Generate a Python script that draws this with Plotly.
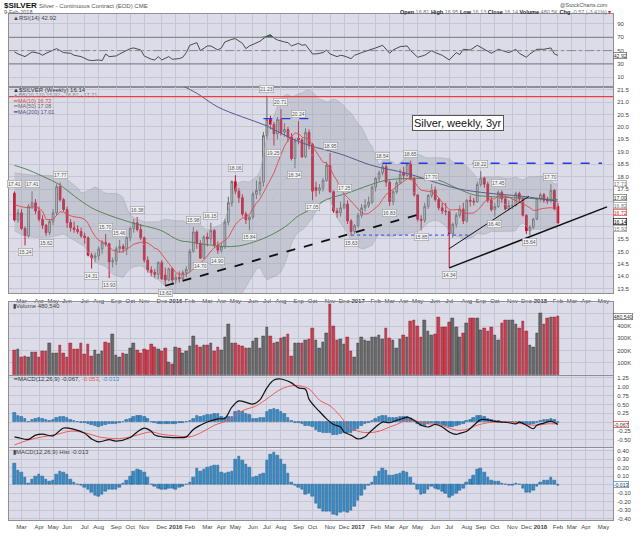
import numpy as np
import pandas as pd
import plotly.graph_objects as go

# ---------------- data (weekly, weeks starting Monday) ----------------
FIRST_WEEK = "2015-02-16"

opens = [17.34,16.26,16.55,15.92,15.63,16.81,16.95,16.62,16.29,16.05,15.75,16.20,16.55,
         17.60,17.08,16.68,16.16,15.95,15.88,15.80,15.62,15.55,14.85,14.75,14.82,15.10,
         15.35,15.31,14.58,14.62,15.10,15.20,15.10,15.55,15.92,16.15,15.88,15.55,14.65,
         14.25,14.15,14.08,14.55,14.05,13.85,14.30,13.85,13.95,13.90,14.15,14.28,15.00,
         15.78,15.32,14.73,15.58,15.50,15.84,15.25,15.05,15.20,16.18,16.95,17.80,17.42,
         17.16,16.50,16.27,16.38,17.30,17.45,17.78,19.65,20.30,20.10,19.72,20.30,19.78,
         19.90,19.60,18.73,19.55,19.48,18.80,19.78,19.30,17.57,17.45,17.55,17.85,18.45,
         17.40,16.62,16.55,16.75,16.90,16.22,15.80,16.03,16.45,16.75,16.85,16.98,17.58,
         17.93,18.15,18.40,17.78,17.00,17.40,17.75,18.15,18.05,18.50,17.93,17.27,16.29,
         16.25,16.81,17.25,17.47,17.08,16.75,16.62,16.60,15.70,16.09,16.45,16.70,16.22,
         17.05,17.02,16.99,17.69,17.95,17.70,17.05,16.68,16.80,17.37,17.11,16.70,16.84,
         16.85,17.33,17.10,16.45,15.83,15.97,16.30,17.13,17.28,17.05,17.03,17.45,16.81]
highs = [17.41,16.70,16.70,16.00,16.90,17.41,17.10,16.80,16.45,16.10,16.30,16.70,17.70,
         17.77,17.15,16.80,16.30,16.20,16.05,15.95,15.75,15.60,14.95,14.95,15.20,15.45,
         15.70,15.35,14.75,15.20,15.46,15.30,15.60,16.00,16.30,16.38,16.10,15.60,14.80,
         14.40,14.30,14.60,14.65,14.35,14.35,14.35,14.10,14.20,14.25,14.40,15.10,15.98,
         15.85,15.45,15.65,15.75,16.15,15.90,15.40,15.35,16.30,17.20,17.85,18.06,17.55,
         17.30,16.60,16.45,17.40,17.85,18.00,19.80,21.23,20.45,20.20,20.40,20.71,20.15,
         20.00,19.75,19.55,20.24,19.55,19.95,19.90,19.35,17.80,17.70,17.95,18.60,18.95,
         17.45,16.75,17.00,17.25,17.05,16.30,16.10,16.55,16.90,17.10,17.20,17.65,18.00,
         18.25,18.54,18.50,17.85,17.45,17.85,18.30,18.40,18.55,18.65,18.00,17.30,16.45,
         16.95,17.30,17.70,17.60,17.15,16.95,16.95,16.65,16.15,16.55,16.85,16.95,17.10,
         17.25,17.15,17.80,18.22,18.00,17.80,17.20,16.95,17.45,17.45,17.25,17.05,17.10,
         17.40,17.40,17.20,16.50,16.05,16.35,17.15,17.35,17.35,17.20,17.70,17.50,16.95]
lows = [16.20,16.15,15.85,15.24,15.55,16.70,16.50,16.20,15.90,15.62,15.65,16.05,16.45,
        17.00,16.60,15.95,15.80,15.75,15.70,15.55,15.30,14.80,14.31,14.55,14.65,14.90,
        15.20,13.93,14.35,14.45,14.95,14.95,14.85,15.40,15.75,15.80,15.45,14.55,14.15,
        14.00,13.95,13.90,13.85,13.62,13.80,13.75,13.70,13.75,13.85,13.95,14.15,14.95,
        15.10,14.70,14.72,15.20,15.30,15.15,14.90,14.95,15.10,16.05,16.80,17.30,16.95,
        16.40,16.10,15.84,16.30,17.10,17.25,17.60,19.50,19.90,19.25,19.50,19.65,19.60,
        19.40,18.65,18.34,19.30,18.75,18.75,19.10,17.05,17.20,17.30,17.40,17.80,17.35,
        16.55,16.35,16.40,16.70,16.10,15.63,15.70,15.95,16.35,16.60,16.75,16.90,17.40,
        17.80,18.05,17.60,16.83,16.85,17.30,17.70,17.85,18.00,17.85,17.20,16.20,15.85,
        16.15,16.70,17.15,17.00,16.65,16.50,16.45,14.34,15.55,15.95,16.35,16.10,16.15,
        16.80,16.85,16.95,17.60,17.55,16.95,16.60,16.40,16.75,16.95,16.65,16.65,16.70,
        16.80,16.95,16.40,15.70,15.64,15.90,16.25,17.00,16.95,16.90,16.95,16.65,16.13]
closes = [16.26,16.55,15.92,15.63,16.81,16.95,16.62,16.29,16.05,15.75,16.20,16.55,17.60,
          17.08,16.68,16.16,15.95,15.88,15.80,15.62,15.55,14.85,14.75,14.82,15.10,15.35,
          15.31,14.58,14.62,15.10,15.20,15.10,15.55,15.92,16.15,15.88,15.55,14.65,14.25,
          14.15,14.08,14.55,13.90,13.85,14.30,13.85,13.95,13.90,14.15,14.28,15.00,15.78,
          15.32,14.73,15.58,15.50,15.84,15.25,15.05,15.20,16.18,16.95,17.80,17.42,17.16,
          16.50,16.27,16.38,17.30,17.45,17.78,19.65,20.30,20.10,19.72,20.30,19.78,19.90,
          19.60,18.73,19.45,19.48,18.80,19.78,19.30,17.42,17.45,17.55,17.85,18.45,17.40,
          16.62,16.55,16.75,16.90,16.22,15.80,16.03,16.45,16.75,16.85,16.98,17.58,17.93,
          18.15,18.40,17.78,17.00,17.40,17.75,18.10,18.05,18.50,17.93,17.27,16.29,16.25,
          16.81,17.25,17.47,17.08,16.75,16.62,16.60,15.70,16.09,16.45,16.70,16.22,17.05,
          17.02,16.99,17.69,17.95,17.70,17.05,16.68,16.80,17.37,17.11,16.70,16.84,16.85,
          17.33,17.10,16.45,15.83,15.97,16.30,17.13,17.28,17.05,17.03,17.45,16.71,16.14]
volume_k = [202,207,148,153,142,188,183,148,196,196,256,175,175,243,175,142,256,210,210,261,
            167,251,153,202,167,196,270,261,329,161,142,175,167,215,256,202,180,207,202,251,
            229,207,196,221,99,88,229,215,175,196,234,316,243,229,243,243,256,196,229,202,
            310,411,256,261,243,234,215,215,275,302,215,318,392,316,256,270,302,305,329,156,
            256,256,261,283,288,378,283,
            215,270,343,576,397,283,289,251,310,196,148,261,310,283,278,310,310,324,289,378,
            297,283,221,294,324,310,440,446,397,310,451,359,324,332,473,392,392,432,467,386,
            310,343,424,467,467,467,364,378,359,392,324,283,424,446,451,451,411,378,440,359,
            243,224,337,505,411,467,473,473,480.54]

# indicator readings (week index -> value)
rsi_week = [0,1,3,5,7,8,9,12,13,14,16,17,19,21,22,24,25,26,27,29,30,32,33,34,36,37,39,40,41,42,
            44,45,47,48,49,50,52,53,55,56,58,59,60,62,63,65,66,67,69,70,72,73,74,75,77,78,79,
            81,82,83,85,86,88,89,90,92,93,94,96,97,99,101,103,105,107,108,110,112,113,115,117,
            119,120,122,124,126,127,128,130,132,134,136,138,140,141,143,144,146,147,149,151,153,
            154,155]
rsi_val = [48,45,41,48,46,43,46,53,50,47,46,43,41,36,35,36,35,45,41,42,45,50,53,54,51,42,37,36,41,36,
           41,37,38,40,47,58,62,50,57,57,51,54,63,67,68,61,53,57,62,64,72,74,69,66,63,62,57,
           61,58,59,45,45,47,51,45,41,43,42,38,43,47,50,54,58,46,51,56,57,50,40,43,
           50,47,43,36,47,44,52,51,58,52,46,52,48,47,52,46,40,45,52,52,54,
           45,42.92]

macd_week = [0,1,4,6,8,11,14,17,20,22,24,27,29,33,35,37,39,40,43,46,49,51,53,55,58,60,62,64,66,68,
             70,72,74,76,79,81,83,84,86,87,89,91,93,94,96,98,100,101,103,105,107,109,111,112,114,
             116,118,120,122,124,126,127,129,131,133,135,137,139,141,143,144,146,148,149,151,153,155]
macd_val = [-0.42,-0.44,-0.49,-0.37,-0.34,-0.39,-0.17,-0.21,-0.32,-0.48,-0.56,-0.50,-0.54,-0.44,-0.28,
            -0.17,-0.26,-0.37,-0.43,-0.44,-0.42,-0.21,-0.09,0.0,0.09,0.11,0.42,0.60,0.56,0.51,
            0.63,0.97,1.19,1.22,1.11,0.97,0.93,0.65,0.40,0.30,0.09,-0.07,-0.14,-0.28,-0.37,-0.48,
            -0.42,-0.32,-0.14,0.0,-0.02,0.05,0.11,0.14,0.05,-0.09,-0.14,-0.07,-0.14,-0.28,-0.35,
            -0.32,-0.26,-0.09,0.07,0.06,0.02,0.0,-0.02,-0.05,0.0,-0.09,-0.19,-0.09,-0.03,0.02,-0.067]
signal_week = [0,4,8,12,16,20,24,27,31,35,39,42,46,50,54,57,61,65,69,72,76,80,84,87,90,93,95,98,
               101,104,107,109,112,115,118,121,124,126,129,132,135,138,141,143,146,149,152,155]
signal_val = [-0.65,-0.51,-0.42,-0.35,-0.26,-0.30,-0.42,-0.46,-0.46,-0.37,-0.28,-0.35,-0.39,-0.42,
              -0.26,-0.09,0.05,0.32,0.46,0.66,0.93,1.04,0.94,0.62,0.46,0.16,-0.09,-0.26,-0.30,-0.26,
              -0.14,-0.07,0.05,0.02,-0.05,-0.07,-0.17,-0.23,-0.21,-0.09,-0.02,0.0,0.0,-0.02,-0.07,
              -0.09,-0.05,-0.053]
hist_val = [0.25,0.17,0.14,0.085,0.015,0.065,0.10,0.115,0.10,0.06,0.04,0.05,0.12,0.15,0.14,0.12,
            0.065,0.027,0.008,-0.01,-0.03,-0.05,-0.09,-0.12,-0.135,-0.11,-0.08,-0.06,-0.05,-0.05,
            -0.03,0.01,0.05,0.10,0.15,0.18,0.17,0.14,0.09,0.005,-0.02,-0.04,-0.05,-0.06,-0.045,
            -0.04,-0.05,-0.035,-0.023,0.005,0.027,0.085,0.19,0.16,0.18,0.20,0.21,0.22,0.23,0.14,
            0.13,0.14,0.16,0.30,0.33,0.29,0.24,0.20,0.09,0.10,0.115,0.13,0.28,0.36,0.38,0.34,
            0.30,0.24,0.13,0.03,-0.01,-0.03,-0.06,-0.115,-0.10,-0.14,-0.22,-0.28,-0.31,-0.31,
            -0.31,-0.35,-0.36,-0.33,-0.31,-0.32,-0.30,-0.26,-0.19,-0.12,-0.06,-0.01,0.03,0.10,
            0.16,0.19,0.17,0.11,0.105,0.12,0.135,0.15,0.14,0.08,0.02,-0.05,-0.11,-0.10,-0.06,
            -0.025,-0.04,-0.055,-0.075,-0.10,-0.145,-0.13,-0.10,-0.07,-0.04,0.03,0.06,0.11,0.18,
            0.19,0.14,0.085,0.05,0.04,0.04,0.013,0.005,-0.008,-0.003,0.015,0.0,-0.04,-0.09,-0.09,
            -0.065,-0.015,0.025,0.054,0.054,0.08,0.05,-0.013]

ma10_early_week = [0,2,4,6,8]
ma10_early_val = [16.88,16.79,16.75,16.81,16.62]
bb_early_week = [0,3,6,10,14,18]
bb_up_early = [18.15,18.10,18.05,18.05,18.00,17.55]
bb_lo_early = [15.83,15.60,15.57,15.57,15.70,15.35]
ma50_week = [0,3,8,13,17,22,27,31,35,39,42,47,50,53,57,60,64,67,72,77,81,84,89,95,100,106,112,117,
             121,126,131,135,145,155]
ma50_val = [18.45,18.32,18.02,17.67,17.23,16.75,16.45,16.26,16.09,15.96,15.83,15.44,15.38,15.30,15.24,
            15.19,15.22,15.32,15.58,15.97,16.43,16.65,17.08,17.34,17.60,17.86,17.93,17.93,17.86,
            17.55,17.27,17.21,17.14,17.08]
ma200_week = [40,44,48,52,58,65,72,78,84,93,102,112,121,127,135,145,155]
ma200_val = [22.40,22.00,21.65,21.35,20.80,20.40,20.04,19.60,19.26,18.91,18.45,18.13,17.73,17.50,
             17.34,17.21,17.01]

# annotated highs / lows (week index, which)
hl_marks = [(0,"H"),(3,"L"),(5,"H"),(9,"L"),(13,"H"),(22,"L"),(26,"H"),(27,"L"),(30,"H"),(35,"H"),
            (43,"L"),(51,"H"),(53,"L"),(56,"H"),(58,"L"),(63,"H"),(67,"L"),(72,"H"),(74,"L"),
            (76,"H"),(80,"L"),(81,"H"),(85,"L"),(90,"H"),(94,"H"),(96,"L"),(105,"H"),(107,"L"),
            (113,"H"),(116,"L"),(119,"H"),(124,"L"),(133,"H"),(137,"L"),(138,"H"),(147,"L"),(153,"H")]

# drawn lines: ((date, price), (date, price))
trend_dashed = (("2015-12-14", 13.62), ("2017-05-15", 16.55))
trend_thin = (("2017-07-03", 15.11), ("2017-12-09", 17.21))
trend_thick = (("2017-07-03", 14.34), ("2018-05-14", 16.79))
level_high = 21.22
level_top = ("2016-06-27", "2016-10-03", 20.33)
level_mid = ("2017-02-20", "2018-05-04", 18.54)
level_low = ("2016-12-19", "2017-08-14", 15.65)

# ---------------- derived ----------------
n = len(closes)
dates = pd.date_range(FIRST_WEEK, periods=n, freq="7D")
cs = pd.Series(closes, dtype=float)
ma10 = cs.rolling(10).mean()
ma20 = cs.rolling(20).mean()
sd20 = cs.rolling(20).std(ddof=0)
bb_up = ma20 + 2 * sd20
bb_lo = ma20 - 2 * sd20

def wk(idx):
    return [dates[0] + pd.Timedelta(days=7 * i) for i in idx]

ma10_x = wk(ma10_early_week) + list(dates[9:])
ma10_y = ma10_early_val + list(ma10[9:])
bb_x = wk(bb_early_week) + list(dates[19:])
bbu_y = bb_up_early + list(bb_up[19:])
bbl_y = bb_lo_early + list(bb_lo[19:])

prev = [opens[0]] + closes[:-1]
vol_colors = ["#c8404f" if c < p else "#6a6a6a" for c, p in zip(closes, prev)]
vol_lines = ["#8a2030" if c < p else "#3a3a3a" for c, p in zip(closes, prev)]

# ---------------- layout helpers ----------------
W, H = 640, 538
ML, MR, MT, MB = 8, 24, 14, 8
PW, PH = W - ML - MR, H - MT - MB
def px(x): return (x - ML) / PW
def py(y): return (H - MB - y) / PH

BG = "#dcdce8"
GRID = "#c5c5d6"
BORDER = "#8e8e98"
FONT = "Liberation Sans"
TICKC = "#444444"

xr = ["2015-02-05", "2018-05-26"]
all_weeks = pd.date_range("2015-02-02", "2018-05-28", freq="7D")
tickvals, ticktext = [], []
for i, d in enumerate(all_weeks):
    if i == 0 or d.month != all_weeks[i - 1].month:
        tickvals.append(d)
        ticktext.append(f"<b>{d.year}</b>" if d.month == 1 else d.strftime("%b"))

fig = go.Figure()

# ---- RSI panel ----
rsi_x = wk(rsi_week)
rsi_arr = np.array(rsi_val, dtype=float)
fig.add_trace(go.Scatter(x=rsi_x, y=[70] * len(rsi_x), mode="lines", line=dict(width=0),
                         xaxis="x", yaxis="y", hoverinfo="skip"))
fig.add_trace(go.Scatter(x=rsi_x, y=np.maximum(rsi_arr, 70), mode="lines", line=dict(width=0),
                         fill="tonexty", fillcolor="#3f6b4a", xaxis="x", yaxis="y", hoverinfo="skip"))
fig.add_trace(go.Scatter(x=rsi_x, y=rsi_val, mode="lines", line=dict(color="#4a4a4a", width=1),
                         xaxis="x", yaxis="y"))

# ---- price panel ----
fig.add_trace(go.Scatter(x=bb_x, y=bbu_y, mode="lines", line=dict(color="#a6acb4", width=0.6),
                         xaxis="x2", yaxis="y2", hoverinfo="skip"))
fig.add_trace(go.Scatter(x=bb_x, y=bbl_y, mode="lines", line=dict(color="#a6acb4", width=0.6),
                         fill="tonexty", fillcolor="rgba(150,158,166,0.33)", xaxis="x2", yaxis="y2",
                         hoverinfo="skip"))
fig.add_trace(go.Scatter(x=list(dates[19:]), y=list(ma20[19:]), mode="lines",
                         line=dict(color="#b4b8c0", width=0.6, dash="dot"), xaxis="x2", yaxis="y2"))
fig.add_trace(go.Scatter(x=wk(ma50_week), y=ma50_val, mode="lines", line=dict(color="#5b8459", width=1),
                         line_shape="spline", xaxis="x2", yaxis="y2"))
fig.add_trace(go.Scatter(x=wk(ma200_week), y=ma200_val, mode="lines", line=dict(color="#575a8e", width=1),
                         line_shape="spline", xaxis="x2", yaxis="y2"))
fig.add_trace(go.Scatter(x=ma10_x, y=ma10_y, mode="lines", line=dict(color="#e04a4a", width=0.9),
                         xaxis="x2", yaxis="y2"))
fig.add_trace(go.Candlestick(x=dates, open=opens, high=highs, low=lows, close=closes,
                             increasing=dict(line=dict(color="#6a6a6a", width=1), fillcolor="rgba(0,0,0,0)"),
                             decreasing=dict(line=dict(color="#c8102e", width=1), fillcolor="#c8102e"),
                             whiskerwidth=0, xaxis="x2", yaxis="y2"))

def seg(p0, p1, color, width, dash, ax="2"):
    fig.add_trace(go.Scatter(x=[p0[0], p1[0]], y=[p0[1], p1[1]], mode="lines",
                             line=dict(color=color, width=width, dash=dash),
                             xaxis="x" + ax, yaxis="y" + ax, hoverinfo="skip"))

seg(*trend_dashed, "#111111", 1.8, "dash")
seg(*trend_thin, "#111111", 1.0, "solid")
seg(*trend_thick, "#111111", 1.5, "solid")
seg((level_top[0], level_top[2]), (level_top[1], level_top[2]), "#1f3de0", 1.3, "dash")
seg((level_mid[0], level_mid[2]), (level_mid[1], level_mid[2]), "#1f3de0", 1.3, "dash")
seg((level_low[0], level_low[2]), (level_low[1], level_low[2]), "#5060f0", 1.2, "dot")

# ---- volume panel ----
bw = 7 * 86400000 * 0.74
fig.add_trace(go.Bar(x=dates, y=[v * 1000 for v in volume_k], width=bw,
                     marker=dict(color=vol_colors, line=dict(color=vol_lines, width=0.5)),
                     xaxis="x3", yaxis="y3"))

# ---- MACD panel ----
fig.add_trace(go.Bar(x=dates, y=hist_val, width=bw,
                     marker=dict(color="#3a8cc6", line=dict(color="#1c5a88", width=0.5)),
                     xaxis="x4", yaxis="y4"))
fig.add_trace(go.Scatter(x=wk(signal_week), y=signal_val, mode="lines", line_shape="spline",
                         line=dict(color="#ee5a5a", width=1), xaxis="x4", yaxis="y4"))
fig.add_trace(go.Scatter(x=wk(macd_week), y=macd_val, mode="lines", line_shape="spline",
                         line=dict(color="#111111", width=1.2), xaxis="x4", yaxis="y4"))

# ---- histogram panel ----
fig.add_trace(go.Bar(x=dates, y=hist_val, width=bw,
                     marker=dict(color="#3a8cc6", line=dict(color="#1c5a88", width=0.5)),
                     xaxis="x5", yaxis="y5"))

# ---------------- axes ----------------
doms = {
    "": [py(88), 1.0],
    "2": [py(299), py(88)],
    "3": [py(382), py(308)],
    "4": [py(456), py(383)],
    "5": [0.0, py(457)],
}
lay = dict(
    width=W, height=H, margin=dict(l=ML, r=MR, t=MT, b=MB),
    paper_bgcolor="white", plot_bgcolor=BG, showlegend=False, bargap=0,
    font=dict(family=FONT, size=7, color=TICKC),
)
for k in ["", "2", "3", "4", "5"]:
    lay["xaxis" + k] = dict(
        domain=[0, 1], anchor="y" + k, type="date", range=xr,
        tickvals=tickvals, ticktext=ticktext, ticks="", tickangle=0,
        showticklabels=(k in ("2", "5")), tickfont=dict(size=6, color=TICKC, family=FONT),
        ticklabelstandoff=1,
        showgrid=True, gridcolor=GRID, gridwidth=0.6, zeroline=False,
        showline=True, mirror=True, linecolor=BORDER, linewidth=1,
        rangeslider=dict(visible=False),
    )
    if k != "":
        lay["xaxis" + k]["matches"] = "x"

ycommon = dict(side="right", ticks="", showgrid=True, gridcolor=GRID, gridwidth=0.6, zeroline=False,
               showline=True, mirror=True, linecolor=BORDER, linewidth=1, ticklabelstandoff=2,
               tickfont=dict(size=6, color=TICKC, family=FONT))
lay["yaxis"] = dict(ycommon, domain=doms[""], anchor="x", range=[-4, 105],
                    tickvals=[10, 30, 50, 70, 90], ticktext=["10", "30", "50", "70", "90"])
pt = [13.5 + 0.5 * i for i in range(17)]
hidden_price = {16.0, 16.5, 17.0}
lay["yaxis2"] = dict(ycommon, domain=doms["2"], anchor="x2", range=[13.31, 21.62],
                     tickvals=pt, ticktext=["" if v in hidden_price else f"{v:.1f}" for v in pt])
lay["yaxis3"] = dict(ycommon, domain=doms["3"], anchor="x3", range=[0, 595000],
                     tickvals=[100000, 200000, 300000, 400000, 500000],
                     ticktext=["100K", "200K", "300K", "400K", ""])
mt = [1.25, 1.0, 0.75, 0.5, 0.25, 0.0, -0.25, -0.5]
lay["yaxis4"] = dict(ycommon, domain=doms["4"], anchor="x4", range=[-0.72, 1.31],
                     tickvals=mt, ticktext=["" if v == 0 else f"{v:.2f}" for v in mt])
ht = [0.4, 0.3, 0.2, 0.1, 0.0, -0.1, -0.2, -0.3, -0.4]
lay["yaxis5"] = dict(ycommon, domain=doms["5"], anchor="x5", range=[-0.414, 0.425],
                     tickvals=ht, ticktext=["" if v == 0 else f"{v:.2f}" for v in ht])
fig.update_layout(**lay)

# reference lines
shapes = []
for yv, dash, col in [(70, "solid", "#7a7a84"), (30, "solid", "#7a7a84"), (50, "dashdot", "#8a8a94")]:
    shapes.append(dict(type="line", xref="x domain", yref="y", x0=0, x1=1, y0=yv, y1=yv,
                       line=dict(color=col, width=1, dash=dash)))
shapes.append(dict(type="line", xref="x2 domain", yref="y2", x0=0, x1=1, y0=level_high, y1=level_high,
                   line=dict(color="#f03c3c", width=1.3)))
fig.update_layout(shapes=shapes)

# ---------------- annotations ----------------
ann = []
def txt(x, y, s, size=6.5, color="#333", anchor="left", bold=False):
    ann.append(dict(xref="paper", yref="paper", x=px(x), y=py(y), text=(f"<b>{s}</b>" if bold else s),
                    showarrow=False, xanchor=anchor, yanchor="middle",
                    font=dict(size=size, color=color, family=FONT)))

# header
txt(1, 5, "<b>$SILVER</b> <span style='font-size:6px;color:#555'>Silver - Continuous Contract (EOD) CME</span>",
    size=8, color="#111")
txt(1, 11.5, "9-Feb-2018", size=5.5, color="#555")
txt(613, 5, "@StockCharts.com", size=5.5, color="#555", anchor="right")
txt(616, 11.5, "<b>Open</b> <span style='color:#777'>16.81</span> <b>High</b> <span style='color:#777'>16.95</span> "
    "<b>Low</b> <span style='color:#777'>16.13</span> <b>Close</b> <span style='color:#777'>16.14</span> "
    "<b>Volume</b> <span style='color:#777'>480.5K</span> <b>Chg</b> <span style='color:#777'>-0.57 (-3.41%)</span> "
    "<span style='color:#d01010'>▾</span>", size=5.5, color="#222", anchor="right")

# panel legends
txt(10, 18, "▲RSI(14) 42.92", size=6, color="#444")
txt(10, 91.5, "▲$SILVER (Weekly) 16.14", size=6, color="#333")
txt(10, 97, "▲BB(20,2.0) 15.92 - 16.82 - 17.71", size=5.5, color="#8a8a8a")
txt(10, 102.5, "<span style='color:#e04a4a'>━</span>MA(10) 16.72", size=5.5, color="#d04848")
txt(10, 108, "<span style='color:#5b8459'>━</span>MA(50) 17.08", size=5.5, color="#6a6a6a")
txt(10, 113.5, "<span style='color:#222266'>━</span>MA(200) 17.01", size=5.5, color="#4a4a7a")
txt(10, 311.5, "▮Volume 480,540", size=6, color="#444")
txt(10, 386.5, "━MACD(12,26,9) -0.067, <span style='color:#e05050'>-0.053</span>, "
    "<span style='color:#3a8cc6'>-0.013</span>", size=6, color="#333")
txt(10, 460.5, "▮MACD(12,26,9) Hist -0.013", size=6, color="#444")

# chart title box
ann.append(dict(xref="paper", yref="paper", x=px(460), y=py(125.5), text="Silver, weekly, 3yr",
                showarrow=False, xanchor="center", yanchor="middle", bgcolor="white",
                bordercolor="#555", borderwidth=1, borderpad=1,
                font=dict(size=11, color="#111", family=FONT)))

# high / low markers
for i, kind in hl_marks:
    val = highs[i] if kind == "H" else lows[i]
    ann.append(dict(xref="x2", yref="y2", x=dates[i], y=val, text=f"{val:.2f}", showarrow=False,
                    yshift=(7 if kind == "H" else -7), xanchor="center", yanchor="middle",
                    bgcolor="#f2f2f4", bordercolor="#9a9a9a", borderwidth=0.6, borderpad=0.5,
                    font=dict(size=5, color="#555", family=FONT)))

# right-hand value boxes (pixel rows so they do not pile up)
def rbox(ypix, s, border, color="#333"):
    ann.append(dict(xref="paper", yref="paper", x=1.0, y=py(ypix), text=s, showarrow=False,
                    xanchor="left", xshift=0, yanchor="middle", bgcolor="white", bordercolor=border,
                    borderwidth=0.7, borderpad=0, font=dict(size=5.2, color=color, family=FONT)))

rbox(56, "42.92", "#666")
rbox(186.5, "17.71", "#999", "#777")
rbox(201.5, "17.00", "#5b8459")
rbox(208.8, "16.82", "#999", "#777")
rbox(216.1, "16.72", "#e04a4a", "#c03030")
rbox(225.5, "16.14", "#111", "#111")
rbox(233, "15.92", "#999", "#777")
rbox(322.5, "480,540", "#666")
rbox(432.5, "-0.067", "#d04040")
rbox(494, "-0.013", "#3a8cc6")

fig.update_layout(annotations=ann)
fig.write_html("out.html", config={"displayModeBar": False},
               post_script="document.body.style.margin='0';document.body.style.overflow='hidden';")
